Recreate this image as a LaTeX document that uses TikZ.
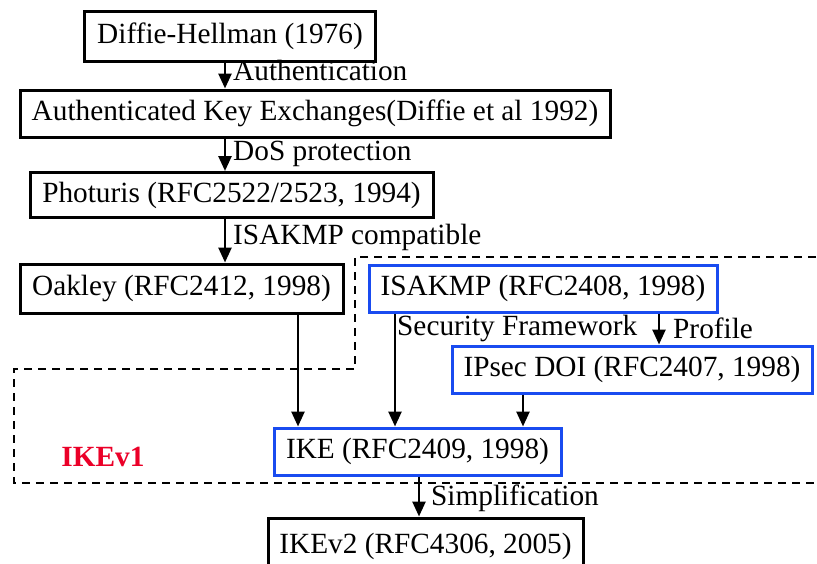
\documentclass[tikz,border=0pt]{standalone}
\usepackage{fontspec}
\setmainfont{Liberation Serif}
\usetikzlibrary{arrows.meta,calc}
\definecolor{bblue}{RGB}{25,75,240}
\definecolor{ikered}{RGB}{235,0,40}
\begin{document}
\begin{tikzpicture}[x=1pt,y=-1pt,
  tfont/.style={font=\fontsize{29.3}{33}\selectfont},
  kbox/.style={draw=black,line width=3pt,inner sep=0pt,tfont},
  bbox/.style={draw=bblue,line width=3pt,inner sep=0pt,tfont},
  lab/.style={anchor=west,inner sep=0pt,tfont},
  arr/.style={line width=2.6pt,-{Triangle[length=15pt,width=13pt]}},
  region/.style={line width=1.9pt,dash pattern=on 8pt off 6pt}]
\useasboundingbox (0,0) rectangle (817,563);
\clip (0,0) rectangle (817,563);
% boxes
\node[kbox,minimum width=291,minimum height=50] (dh) at (230,36) {Diffie-Hellman (1976)};
\node[kbox,minimum width=590,minimum height=47] (ake) at (315,113.5) {Authenticated Key Exchanges(Diffie et al 1992)};
\node[kbox,minimum width=403,minimum height=45] (pho) at (231.5,195) {Photuris (RFC2522/2523, 1994)};
\node[kbox,minimum width=323,minimum height=49] (oak) at (181.5,288.5) {Oakley (RFC2412, 1998)};
\node[bbox,minimum width=348,minimum height=47] (isa) at (543,288.5) {ISAKMP (RFC2408, 1998)};
\node[bbox,minimum width=360,minimum height=47] (ips) at (632,369.5) {IPsec DOI (RFC2407, 1998)};
\node[bbox,minimum width=287,minimum height=47] (ike) at (417.5,451.5) {IKE (RFC2409, 1998)};
\node[kbox,minimum width=315,minimum height=56] (ike2) at (425.5,546) {IKEv2 (RFC4306, 2005)};
% IKEv1 region
\draw[region] (830,257) -- (355,257) -- (355,369) -- (14,369) -- (14,483) -- (830,483);
\node[font=\fontsize{29.3}{33}\selectfont\bfseries,text=ikered,inner sep=0pt] (v1) at (103,457) {IKEv1};
% x positions
\coordinate (xa) at (225,0);
\coordinate (xo) at (298,0);
\coordinate (xs) at (395,0);
\coordinate (xp) at (659,0);
\coordinate (xd) at (523,0);
\coordinate (xk) at (419,0);
% connectors
\draw[arr] (dh.south -| xa) -- (ake.north -| xa);
\node[lab] (l1) at (233,70) {Authentication};
\draw[arr] (ake.south -| xa) -- (pho.north -| xa);
\node[lab] (l2) at (233,154) {DoS protection};
\draw[arr] (pho.south -| xa) -- (oak.north -| xa);
\node[lab] (l3) at (233,237) {ISAKMP compatible};
\draw[arr] (oak.south -| xo) -- (ike.north -| xo);
\draw[arr] (isa.south -| xs) -- (ike.north -| xs);
\node[lab] (l4) at (397,328) {Security Framework};
\draw[arr] (isa.south -| xp) -- (ips.north -| xp);
\node[lab] (l5) at (673,328) {Profile};
\draw[arr] (ips.south -| xd) -- (ike.north -| xd);
\draw[arr] (ike.south -| xk) -- (ike2.north -| xk);
\node[lab] (l6) at (431,498) {Simplification};
\end{tikzpicture}
\end{document}
